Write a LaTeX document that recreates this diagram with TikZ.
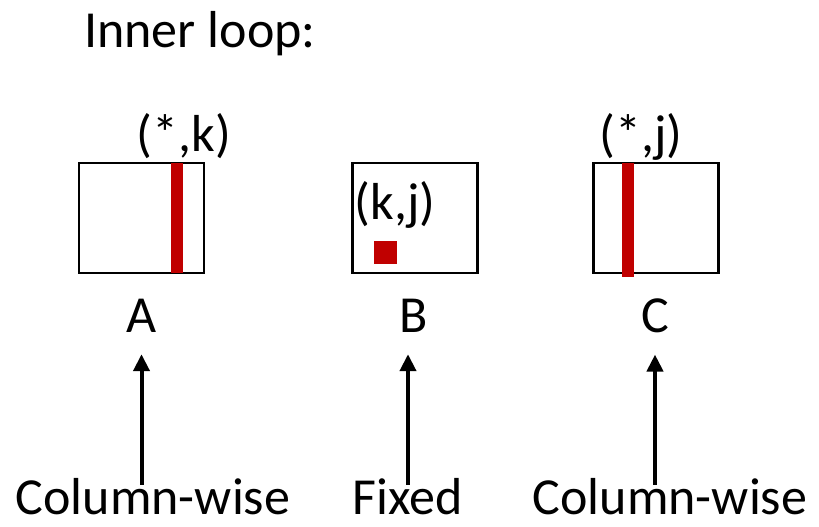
\documentclass[tikz,border=0pt]{standalone}
\usepackage{fontspec}
\setmainfont{Carlito}
\usetikzlibrary{arrows.meta,calc}
\definecolor{barred}{RGB}{192,0,0}
\tikzset{
  matbox/.style={draw, line width=2.5pt, minimum width=125pt, minimum height=110pt, inner sep=0pt},
  bar/.style={draw=barred, line width=12pt},
  txt/.style={font=\fontsize{52}{62}\selectfont, inner sep=0pt},
  arr/.style={line width=4pt, -{Triangle[width=16pt,length=17pt]}}
}
\begin{document}
\begin{tikzpicture}[x=1pt,y=1pt]
		%%%%% START %%%%%
		\useasboundingbox (0,0) rectangle (819,527);
		
		\node[txt, anchor=base west] (title) at (84,479) {Inner loop:};
		
		% the three matrices
		\node[matbox] (matA) at (141.5,309) {};
		\node[matbox] (matB) at (415,309) {};
		\node[matbox] (matC) at (656,309) {};
		
		\draw[bar] (177,254) -- (177,364);
		\fill[barred] (374,263) rectangle (397,286);
		\draw[bar] (627.5,250) -- (627.5,364);
		
		\node[txt, anchor=base] (idxA) at (184,375) {(*,k)};
		\node[txt, anchor=base] (idxB) at (395,307) {(k,j)};
		\node[txt, anchor=base] (idxC) at (641,375) {(*,j)};
		
		\node[txt, anchor=base] (nameA) at (141.5,194) {A};
		\node[txt, anchor=base] (nameB) at (413.5,194) {B};
		\node[txt, anchor=base] (nameC) at (655,194) {C};
		
		% access pattern
		\node[txt, anchor=base] (accA) at (153,12) {Column-wise};
		\node[txt, anchor=base] (accB) at (408,12) {Fixed};
		\node[txt, anchor=base] (accC) at (670,12) {Column-wise};
		
		\draw[arr] ($(accA.north -| nameA)+(0,-6)$) -- ($(nameA.south)+(0,-21)$);
		\draw[arr] ($(accB.north)+(0,-6)$) -- ($(accB.north |- nameB.south)+(0,-21)$);
		\draw[arr] ($(accC.north -| nameC)+(0,-6)$) -- ($(nameC.south)+(0,-21)$);
		
		%%%%% END %%%%%
	\end{tikzpicture}
\end{document}
